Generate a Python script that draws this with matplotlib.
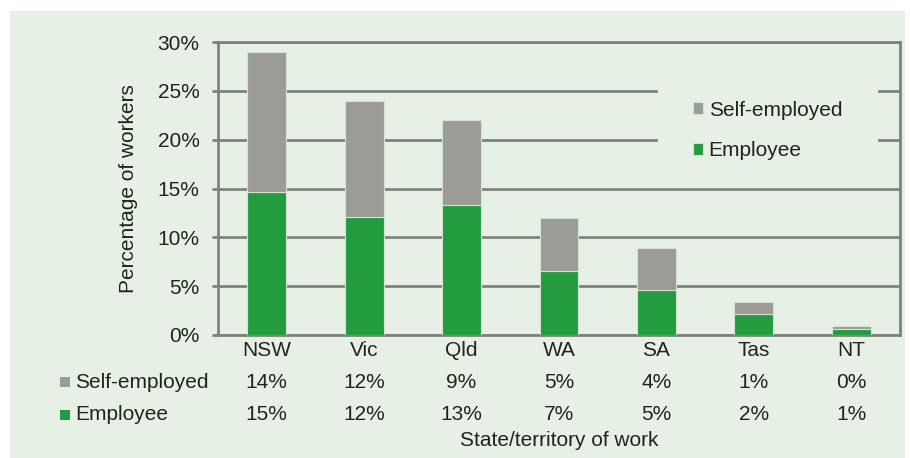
import matplotlib.pyplot as plt
from matplotlib.patches import Rectangle
import matplotlib.transforms as mtransforms

# data
states        = ["NSW", "Vic", "Qld", "WA", "SA", "Tas", "NT"]
employee      = [14.6, 12.1, 13.3, 6.6, 4.6, 2.1, 0.6]
self_employed = [14.4, 11.9, 8.7, 5.4, 4.3, 1.3, 0.3]

GREEN = "#239b3f"
GREY  = "#9a9c95"
PANEL = "#e6f0e5"
LINE  = "#7f817d"
TXT   = "#222222"
FS    = 15

plt.rcParams['font.family'] = ['Liberation Sans', 'DejaVu Sans']

fig = plt.figure(figsize=(9.1, 4.58), dpi=100)
fig.patch.set_facecolor("white")
# light green panel behind everything
fig.patches.append(Rectangle((10 / 910, 0), 895 / 910, 1 - 11 / 458,
                             transform=fig.transFigure, facecolor=PANEL,
                             edgecolor="none", zorder=-10))

ax = fig.add_axes([218 / 910, 1 - 335 / 458, 682 / 910, 293 / 458])
ax.set_facecolor(PANEL)

x = range(len(states))
ax.bar(x, employee, width=0.4, color=GREEN, edgecolor="#d5e2d3", linewidth=0.8,
       label="Employee", zorder=3)
ax.bar(x, self_employed, width=0.4, bottom=employee, color=GREY,
       edgecolor="#d5e2d3", linewidth=0.8, label="Self-employed", zorder=3)

ax.set_xlim(-0.5, len(states) - 0.5)
ax.set_ylim(0, 30)
ax.set_yticks(range(0, 31, 5))
ax.set_yticklabels([f"{t}%" for t in range(0, 31, 5)])
ax.yaxis.grid(True, color=LINE, linewidth=2, zorder=0)
ax.set_axisbelow(True)
for s in ax.spines.values():
    s.set_color(LINE)
    s.set_linewidth(2)
ax.tick_params(axis="y", length=4.3, width=2, color=LINE, labelsize=FS,
               labelcolor=TXT, pad=9)
ax.tick_params(axis="x", length=0, labelsize=FS, labelcolor=TXT, pad=4)
ax.set_xticks(list(x))
ax.set_xticklabels(states)
ax.set_ylabel("Percentage of workers", fontsize=FS, color=TXT, labelpad=14)

# blank patch where the legend sits (hides the gridlines there)
ax.add_patch(Rectangle((0.645, 0.546), 0.323, 0.393, transform=ax.transAxes,
                       facecolor=PANEL, edgecolor="none", zorder=1))

handles, labels = ax.get_legend_handles_labels()
leg = ax.legend(handles[::-1], labels[::-1], loc="center left",
                bbox_to_anchor=(0.6965, 0.698), frameon=False, fontsize=FS,
                handlelength=0.5, handleheight=0.5, handletextpad=0.25,
                labelspacing=1.05, borderpad=0, borderaxespad=0)
for t in leg.get_texts():
    t.set_color(TXT)

# data table under the axis
trans = mtransforms.blended_transform_factory(ax.transData, fig.transFigure)
rows = [("Self-employed", self_employed, GREY, 1 - 382 / 458),
        ("Employee", employee, GREEN, 1 - 415 / 458)]
for name, vals, col, yy in rows:
    for i, v in enumerate(vals):
        ax.text(i, yy, f"{v:.0f}%", transform=trans, ha="center", va="center",
                fontsize=FS, color=TXT)
    fig.text(75 / 910, yy, name, ha="left", va="center", fontsize=FS, color=TXT)
    fig.patches.append(Rectangle((60 / 910, yy - 5 / 458), 10 / 910, 10 / 458,
                                 transform=fig.transFigure, facecolor=col,
                                 edgecolor="none"))

fig.text(559 / 910, 1 - 440 / 458, "State/territory of work",
         ha="center", va="center", fontsize=FS, color=TXT)

fig.savefig("out.png", dpi=100)
